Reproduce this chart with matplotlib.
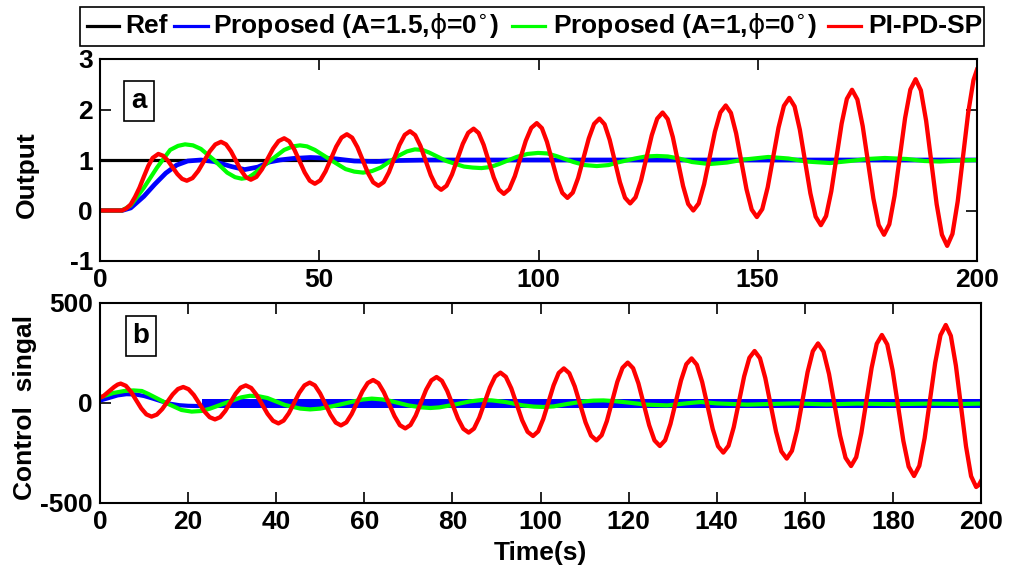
import matplotlib
matplotlib.use('Agg')
import matplotlib.pyplot as plt
from matplotlib.lines import Line2D
from matplotlib.patches import Rectangle

plt.rcParams['font.family'] = ['Liberation Sans', 'DejaVu Sans']
plt.rcParams['font.weight'] = 'bold'
plt.rcParams['axes.unicode_minus'] = False
plt.rcParams['mathtext.fontset'] = 'custom'
plt.rcParams['mathtext.rm'] = 'DejaVu Sans:normal'
plt.rcParams['mathtext.it'] = 'DejaVu Sans:normal'

# ---- panel a: output ----
ref_t = [0, 200]
ref_y = [1, 1]

blue_t = [0, 5, 7, 10, 12.5, 15, 17.5, 20, 23, 26, 30, 33, 36, 38.6, 41, 44, 48, 53, 58, 63, 68, 75, 200]
blue_y = [0, 0, 0.05, 0.28, 0.52, 0.74, 0.9, 0.98, 1.0, 0.97, 0.87, 0.81, 0.86, 0.96, 1.0, 1.03, 1.05, 1.03, 0.98, 0.97, 0.99, 1.0, 1.0]

green_t = [0, 5, 7, 10, 13, 16, 17.8, 19.4, 21.2, 23, 26, 29, 30.8, 32.3, 33.8, 35, 39, 42, 44, 45.6, 47.2,
           49, 53, 56, 58, 60, 62, 64, 68, 70, 71.8, 73.5, 75, 79, 83, 85, 87, 89, 91, 95, 97.5, 99.9, 102,
           104, 108, 110.5, 113.3, 116, 118, 122, 124.5, 127, 129.5, 132, 135, 139, 143, 147, 152.4,
           157, 161, 166.5, 171, 175, 179, 184, 188, 191.6, 196, 200]
green_y = [0, 0, 0.1, 0.45, 0.85, 1.2, 1.28, 1.31, 1.29, 1.22, 1.0, 0.75, 0.66, 0.63, 0.65, 0.72, 1.0, 1.2, 1.27, 1.29, 1.27,
           1.2, 0.98, 0.82, 0.77, 0.75, 0.78, 0.85, 1.08, 1.17, 1.21, 1.2, 1.15, 0.98, 0.87, 0.85, 0.84, 0.86, 0.92, 1.06, 1.12, 1.14, 1.13,
           1.08, 0.96, 0.9, 0.88, 0.9, 0.95, 1.03, 1.07, 1.08, 1.07, 1.03, 0.96, 0.92, 0.95, 1.01, 1.06,
           1.03, 0.97, 0.94, 0.98, 1.02, 1.04, 1.02, 0.98, 0.97, 0.99, 1.0]

red_t = [0, 5, 6, 7, 8, 9, 10, 11, 12,
         13.3, 14.38, 15.47, 16.55, 17.63, 18.72,
         19.8, 21.1, 22.4, 23.7, 25.0, 26.3,
         27.6, 28.73, 29.87, 31.0, 32.13, 33.27,
         34.4, 35.67, 36.93, 38.2, 39.47, 40.73,
         42.0, 43.17, 44.33, 45.5, 46.67, 47.83,
         49.0, 50.22, 51.43, 52.65, 53.87, 55.08,
         56.3, 57.5, 58.7, 59.9, 61.1, 62.3,
         63.5, 64.7, 65.9, 67.1, 68.3, 69.5,
         70.7, 71.88, 73.07, 74.25, 75.43, 76.62,
         77.8, 79.03, 80.27, 81.5, 82.73, 83.97,
         85.2, 86.35, 87.5, 88.65, 89.8, 90.95,
         92.1, 93.35, 94.6, 95.85, 97.1, 98.35,
         99.6, 100.77, 101.93, 103.1, 104.27, 105.43,
         106.6, 107.82, 109.03, 110.25, 111.47, 112.68,
         113.9, 115.07, 116.23, 117.4, 118.57, 119.73,
         120.9, 122.13, 123.37, 124.6, 125.83, 127.07,
         128.3, 129.47, 130.63, 131.8, 132.97, 134.13,
         135.3, 136.53, 137.77, 139.0, 140.23, 141.47,
         142.7, 143.88, 145.07, 146.25, 147.43, 148.62,
         149.8, 151.03, 152.27, 153.5, 154.73, 155.97,
         157.2, 158.4, 159.6, 160.8, 162.0, 163.2,
         164.4, 165.58, 166.77, 167.95, 169.13, 170.32,
         171.5, 172.72, 173.93, 175.15, 176.37, 177.58,
         178.8, 180.0, 181.2, 182.4, 183.6, 184.8,
         186.0, 187.2, 188.4, 189.6, 190.8, 192.0,
         193.2, 194.4, 195.6, 196.8, 198.0, 199.2, 200]
red_y = [0, 0, 0.04, 0.12, 0.27, 0.45, 0.67, 0.88, 1.04,
         1.12, 1.084, 0.988, 0.855, 0.723, 0.626,
         0.59, 0.642, 0.783, 0.975, 1.168, 1.308,
         1.36, 1.31, 1.173, 0.985, 0.798, 0.66,
         0.61, 0.665, 0.815, 1.02, 1.225, 1.375,
         1.43, 1.37, 1.205, 0.98, 0.755, 0.59,
         0.53, 0.596, 0.775, 1.02, 1.265, 1.444,
         1.51, 1.442, 1.255, 1.0, 0.745, 0.558,
         0.49, 0.562, 0.76, 1.03, 1.30, 1.498,
         1.57, 1.492, 1.28, 0.99, 0.70, 0.488,
         0.41, 0.491, 0.713, 1.015, 1.318, 1.539,
         1.62, 1.534, 1.298, 0.975, 0.653, 0.416,
         0.33, 0.424, 0.68, 1.03, 1.38, 1.636,
         1.73, 1.631, 1.36, 0.99, 0.62, 0.349,
         0.25, 0.355, 0.643, 1.035, 1.428, 1.715,
         1.82, 1.707, 1.40, 0.98, 0.56, 0.253,
         0.14, 0.261, 0.59, 1.04, 1.49, 1.819,
         1.94, 1.81, 1.455, 0.97, 0.485, 0.13,
         0.0, 0.139, 0.52, 1.04, 1.56, 1.941,
         2.08, 1.932, 1.528, 0.975, 0.423, 0.018,
         -0.13, 0.028, 0.46, 1.05, 1.64, 2.072,
         2.23, 2.061, 1.60, 0.97, 0.34, -0.121,
         -0.29, -0.11, 0.38, 1.05, 1.72, 2.21,
         2.39, 2.198, 1.673, 0.955, 0.238, -0.288,
         -0.48, -0.274, 0.29, 1.06, 1.83, 2.394,
         2.6, 2.379, 1.775, 0.95, 0.125, -0.479,
         -0.70, -0.464, 0.18, 1.06, 1.94, 2.584, 2.79]

# ---- panel b: control signal ----
ublue_t = [0, 2, 4, 6, 8, 10, 12, 14, 16, 18, 20, 22, 23.1]
ublue_y = [12, 25, 38, 44, 43, 35, 22, 8, -4, -11, -14, -15, -15]
band_t = [23.1, 200.3]
band_hi = [19, 19]
band_lo = [-27, -27]

ugreen_t = [0, 3, 5.5, 7.6, 9.5, 11, 15, 18.5, 20.8, 23, 25, 30, 32, 34, 36, 38, 42, 45.5, 47.7, 50, 53, 57, 59.5, 61.7, 64,
            66, 70, 73, 75, 77, 80, 84, 86.7, 89, 92, 96, 98.5, 100.7, 103, 106, 110, 112, 114.3, 117, 120, 124, 128.8, 133,
            136.4, 140, 147, 152, 158, 165, 172, 180, 188, 195, 200]
ugreen_y = [28, 50, 60, 63, 60, 45, 0, -35, -43, -40, -28, 12, 28, 36, 34, 25, -10, -28, -32, -28, -15, 5, 17, 22, 18,
            10, -12, -22, -25, -22, -10, 8, 15, 13, 5, -12, -18, -20, -17, -5, 8, 12, 13, 9, 2, -8, -12, -2,
            5, -2, -8, -5, -2, -7, -3, -6, -3, -5, -3]

ured_t = [0, 0.8, 1.6, 2.4, 3.2, 4.0,
          4.7, 5.87, 7.03, 8.2, 9.37, 10.53,
          11.7, 12.9, 14.1, 15.3, 16.5, 17.7,
          18.9, 20.1, 21.3, 22.5, 23.7, 24.9,
          26.1, 27.27, 28.43, 29.6, 30.77, 31.93,
          33.1, 34.33, 35.57, 36.8, 38.03, 39.27,
          40.5, 41.68, 42.87, 44.05, 45.23, 46.42,
          47.6, 48.78, 49.97, 51.15, 52.33, 53.52,
          54.7, 55.92, 57.13, 58.35, 59.57, 60.78,
          62.0, 63.22, 64.43, 65.65, 66.87, 68.08,
          69.3, 70.48, 71.67, 72.85, 74.03, 75.22,
          76.4, 77.62, 78.83, 80.05, 81.27, 82.48,
          83.7, 84.9, 86.1, 87.3, 88.5, 89.7,
          90.9, 92.13, 93.37, 94.6, 95.83, 97.07,
          98.3, 99.47, 100.63, 101.8, 102.97, 104.13,
          105.3, 106.53, 107.77, 109.0, 110.23, 111.47,
          112.7, 113.88, 115.07, 116.25, 117.43, 118.62,
          119.8, 121.02, 122.23, 123.45, 124.67, 125.88,
          127.1, 128.3, 129.5, 130.7, 131.9, 133.1,
          134.3, 135.5, 136.7, 137.9, 139.1, 140.3,
          141.5, 142.68, 143.87, 145.05, 146.23, 147.42,
          148.6, 149.82, 151.03, 152.25, 153.47, 154.68,
          155.9, 157.08, 158.27, 159.45, 160.63, 161.82,
          163.0, 164.25, 165.5, 166.75, 168.0, 169.25,
          170.5, 171.67, 172.83, 174.0, 175.17, 176.33,
          177.5, 178.72, 179.93, 181.15, 182.37, 183.58,
          184.8, 186.0, 187.2, 188.4, 189.6, 190.8,
          192.0, 193.15, 194.3, 195.45, 196.6, 197.75,
          198.9, 199.5, 200]
ured_y = [27, 35, 50, 65, 80, 92,
          97, 86, 56, 14, -27, -57,
          -68, -58, -31, 6, 43, 70,
          80, 69, 40, -1, -42, -71,
          -82, -71, -40, 3, 46, 77,
          88, 75, 40, -7, -54, -89,
          -102, -88, -51, 0, 51, 88,
          102, 88, 48, -5, -58, -98,
          -112, -97, -55, 2, 58, 100,
          115, 99, 54, -6, -66, -111,
          -127, -110, -63, 2, 66, 113,
          130, 111, 60, -9, -78, -129,
          -148, -128, -73, 2, 77, 132,
          152, 131, 73, -6, -86, -144,
          -165, -142, -80, 4, 88, 150,
          173, 149, 83, -7, -97, -163,
          -187, -161, -90, 8, 105, 176,
          202, 174, 98, -6, -111, -187,
          -215, -186, -105, 4, 113, 194,
          223, 191, 105, -12, -130, -216,
          -248, -214, -121, 6, 133, 226,
          260, 224, 125, -9, -143, -242,
          -278, -239, -134, 10, 154, 259,
          298, 257, 145, -8, -162, -274,
          -315, -271, -151, 12, 176, 296,
          340, 293, 164, -12, -189, -318,
          -365, -314, -176, 12, 201, 339,
          390, 336, 187, -15, -217, -366,
          -420, -410, -390]

xticks_a = [0, 50, 100, 150, 200]
yticks_a = [-1, 0, 1, 2, 3]
xticks_b = [0, 20, 40, 60, 80, 100, 120, 140, 160, 180, 200]
yticks_b = [-500, 0, 500]

W, H = 1023, 570
fig = plt.figure(figsize=(W / 100, H / 100), dpi=100)
ax1 = fig.add_axes([100 / W, 1 - 261 / H, 877 / W, 202 / H])
ax2 = fig.add_axes([100 / W, 1 - 503 / H, 881 / W, 200 / H])

ax1.plot(ref_t, ref_y, color='black', lw=2.3)
ax1.plot(blue_t, blue_y, color='blue', lw=3.4)
ax1.plot(green_t, green_y, color=(0, 1, 0), lw=3)
ax1.plot(red_t, red_y, color='red', lw=3.1)

ax2.plot(ublue_t, ublue_y, color='blue', lw=3)
ax2.fill_between(band_t, band_lo, band_hi, color='blue', lw=0, clip_on=False)
ax2.plot(ugreen_t, ugreen_y, color=(0, 1, 0), lw=3)
ax2.plot(ured_t, ured_y, color='red', lw=3.1)

for ax, xt, yt, yl in [(ax1, xticks_a, yticks_a, (-1, 3)), (ax2, xticks_b, yticks_b, (-500, 500))]:
    ax.set_xlim(0, 200)
    ax.set_ylim(*yl)
    ax.set_xticks(xt)
    ax.set_yticks(yt)
    ax.tick_params(direction='in', length=8, width=1.2, top=True, right=True,
                   labelsize=19, pad=5)
    for s in ax.spines.values():
        s.set_linewidth(1.5)
    for lab in ax.get_xticklabels() + ax.get_yticklabels():
        lab.set_fontweight('bold')

ax1.set_ylabel('Output', fontsize=19, fontweight='bold')
ax2.set_ylabel('Control  singal', fontsize=19, fontweight='bold')
ax2.set_xlabel('Time(s)', fontsize=19, fontweight='bold', labelpad=5)
ax1.yaxis.set_label_coords(-0.070, 0.426)
ax2.yaxis.set_label_coords(-0.072, 0.477)

box = dict(boxstyle='square,pad=0.25', fc='white', ec='black', lw=1.2)
fig.text(139 / W, 1 - 101 / H, 'a', fontsize=20, fontweight='bold', ha='center', va='center', bbox=box)
fig.text(141 / W, 1 - 336 / H, 'b', fontsize=20, fontweight='bold', ha='center', va='center', bbox=box)

# legend drawn by hand to keep the MATLAB-style spacing
fig.add_artist(Rectangle((80 / W, 1 - 46 / H), 904 / W, 39 / H, transform=fig.transFigure,
                         fc='white', ec='black', lw=1.2))
ly = 1 - 26 / H
items = [(87, 119, 125, 'black', 'Ref'),
         (174, 208, 213, 'blue', r'Proposed (A=1.5,$\phi$=0$^{\circ}$)'),
         (512, 545, 553, (0, 1, 0), r'Proposed (A=1,$\phi$=0$^{\circ}$)'),
         (828, 861, 868, 'red', 'PI-PD-SP')]
for x0, x1, xt, c, lab in items:
    fig.add_artist(Line2D([x0 / W, x1 / W], [ly, ly], transform=fig.transFigure, color=c, lw=2.3))
    fig.text(xt / W, ly, lab, fontsize=19, fontweight='bold', va='center', ha='left')

fig.savefig('out.png', dpi=100)
